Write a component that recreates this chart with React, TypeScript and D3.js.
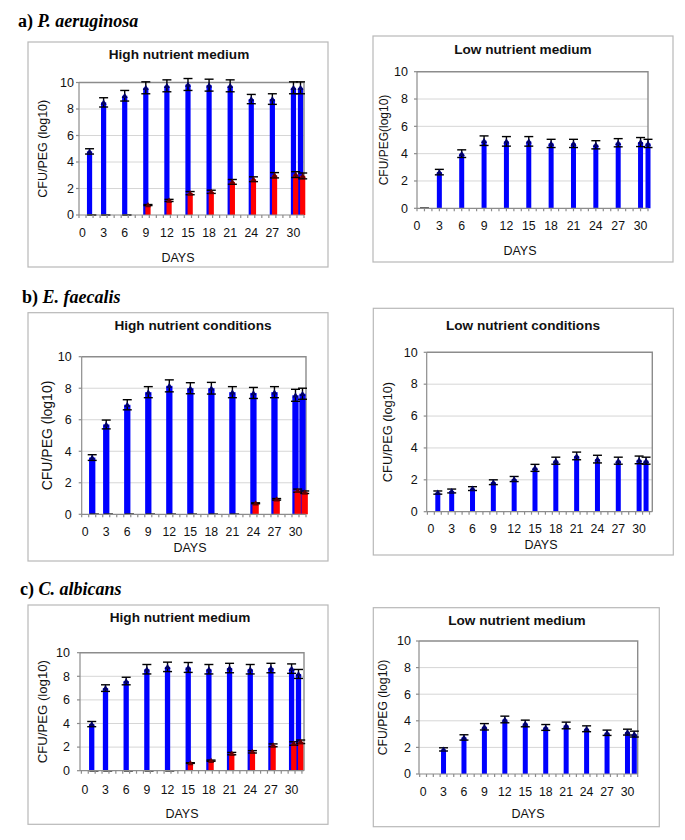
import React, { useEffect, useRef } from 'react';
import * as d3 from 'd3';

const days = [1, 3, 6, 9, 12, 15, 18, 21, 24, 27, 30, 31];
const dayLabels = [0, 3, 6, 9, 12, 15, 18, 21, 24, 27, 30];
const yTicks = [0, 2, 4, 6, 8, 10];

// a) P. aeruginosa
const paHighBlue = [4.8, 8.5, 9.0, 9.6, 9.75, 9.85, 9.8, 9.75, 8.75, 8.75, 9.6, 9.6];
const paHighBlueErr = [0.2, 0.35, 0.4, 0.45, 0.45, 0.45, 0.45, 0.45, 0.35, 0.4, 0.45, 0.45];
const paHighRed = [0, 0, 0, 0.75, 1.1, 1.65, 1.75, 2.5, 2.7, 3.0, 3.05, 2.95];
const paHighRedErr = [0, 0, 0, 0.04, 0.08, 0.12, 0.12, 0.18, 0.18, 0.2, 0.22, 0.22];
const paLowBlue = [0, 2.65, 4.0, 4.95, 4.9, 4.9, 4.75, 4.75, 4.65, 4.8, 4.85, 4.75];
const paLowBlueErr = [0, 0.2, 0.28, 0.35, 0.35, 0.35, 0.3, 0.3, 0.3, 0.3, 0.33, 0.3];

// b) E. faecalis
const efHighBlue = [3.6, 5.7, 6.95, 7.75, 8.15, 8.0, 8.0, 7.75, 7.7, 7.75, 7.55, 7.65];
const efHighBlueErr = [0.18, 0.28, 0.32, 0.35, 0.38, 0.35, 0.37, 0.35, 0.35, 0.35, 0.38, 0.35];
const efHighRed = [0, 0, 0, 0, 0, 0, 0, 0, 0.7, 0.95, 1.5, 1.4];
const efHighRedErr = [0, 0, 0, 0, 0, 0, 0, 0, 0.03, 0.05, 0.1, 0.08];
const efLowBlue = [1.2, 1.3, 1.45, 1.85, 2.05, 2.75, 3.2, 3.5, 3.3, 3.2, 3.25, 3.2];
const efLowBlueErr = [0.1, 0.12, 0.12, 0.15, 0.16, 0.22, 0.22, 0.24, 0.24, 0.22, 0.24, 0.22];

// c) C. albicans
const caHighBlue = [3.95, 7.0, 7.6, 8.6, 8.8, 8.75, 8.6, 8.7, 8.6, 8.7, 8.65, 8.2];
const caHighBlueErr = [0.22, 0.28, 0.32, 0.4, 0.4, 0.42, 0.4, 0.4, 0.4, 0.4, 0.4, 0.38];
const caHighRed = [0, 0, 0, 0, 0, 0.65, 0.85, 1.45, 1.6, 2.15, 2.3, 2.45];
const caHighRedErr = [0, 0, 0, 0, 0, 0.03, 0.05, 0.1, 0.1, 0.12, 0.15, 0.15];
const caLowBlue = [null, 1.85, 2.75, 3.55, 4.1, 3.8, 3.5, 3.65, 3.4, 3.1, 3.15, 3.0];
const caLowBlueErr = [0, 0.12, 0.2, 0.24, 0.25, 0.25, 0.22, 0.25, 0.22, 0.2, 0.22, 0.22];

const sections = [
  { tag: 'a) ', name: 'P. aeruginosa', x: 18, y: 27 },
  { tag: 'b) ', name: 'E. faecalis', x: 22, y: 303 },
  { tag: 'c) ', name: 'C. albicans', x: 20, y: 595 },
];

const panels = [
  {
    frame: [28, 42, 328, 267], plot: [79, 82.5, 304, 215], xDomain: [-0.5, 31.5], tickOff: 0.5,
    title: 'High nutrient medium', titleX: 179, titleY: 59, tickY: 236.5, daysX: 178, daysY: 261.5,
    yLabel: 'CFU/PEG (log10)', yLabelX: 43, yLabelSize: 12.5, yGap: 5, barW: 5.2,
    blue: paHighBlue, blueErr: paHighBlueErr, red: paHighRed, redErr: paHighRedErr,
  },
  {
    frame: [373, 36, 673, 262], plot: [417, 71.7, 648, 208.3], xDomain: [0, 31], tickOff: 0,
    title: 'Low nutrient medium', titleX: 523, titleY: 54, tickY: 229.5, daysX: 520, daysY: 254.5,
    yLabel: 'CFU/PEG(log10)', yLabelX: 384, yLabelSize: 12, yGap: 9, barW: 5,
    blue: paLowBlue, blueErr: paLowBlueErr, red: null, redErr: null,
  },
  {
    frame: [28, 312.7, 328, 561], plot: [81.7, 356.7, 306, 514.3], xDomain: [-0.5, 31.5], tickOff: 0.5,
    title: 'High nutrient conditions', titleX: 193, titleY: 330, tickY: 536, daysX: 190, daysY: 552,
    yLabel: 'CFU/PEG (log10)', yLabelX: 47.5, yLabelSize: 14, yGap: 10, barW: 6.3,
    blue: efHighBlue, blueErr: efHighBlueErr, red: efHighRed, redErr: efHighRedErr,
  },
  {
    frame: [373.3, 308.3, 673.3, 555], plot: [426.7, 352.3, 652.3, 511.7], xDomain: [-0.6, 31.9], tickOff: 0.5,
    title: 'Low nutrient conditions', titleX: 523, titleY: 330, tickY: 532.5, daysX: 541, daysY: 548.5,
    yLabel: 'CFU/PEG (log10)', yLabelX: 387.5, yLabelSize: 12.8, yGap: 9, barW: 5,
    blue: efLowBlue, blueErr: efLowBlueErr, red: null, redErr: null,
  },
  {
    frame: [28, 605, 328, 824.3], plot: [80, 652.7, 304, 770.7], xDomain: [-0.7, 31.8], tickOff: 0.5,
    title: 'High nutrient medium', titleX: 180, titleY: 622, tickY: 793.5, daysX: 182, daysY: 817.5,
    yLabel: 'CFU/PEG (log10)', yLabelX: 42.5, yLabelSize: 13.2, yGap: 10, barW: 5.3,
    blue: caHighBlue, blueErr: caHighBlueErr, red: caHighRed, redErr: caHighRedErr,
  },
  {
    frame: [373.3, 607.7, 659.3, 826.7], plot: [419, 641, 637.7, 774], xDomain: [-0.6, 31.5], tickOff: 0.5,
    title: 'Low nutrient medium', titleX: 517, titleY: 624.5, tickY: 796, daysX: 528, daysY: 817.5,
    yLabel: 'CFU/PEG (log10)', yLabelX: 383, yLabelSize: 12.2, yGap: 8, barW: 5,
    blue: caLowBlue, blueErr: caLowBlueErr, red: null, redErr: null,
  },
];

const FONT = 'Liberation Sans, Arial, sans-serif';

function drawSeries(g, x, y, vals, errs, barW, offset, fill, markFill) {
  const pts = days.map((d, i) => ({ d, v: vals[i], e: errs[i] })).filter(p => p.v !== null);
  g.append('g').selectAll('rect').data(pts.filter(p => p.v > 0)).join('rect')
    .attr('x', p => x(p.d) + offset - barW / 2)
    .attr('y', p => y(p.v))
    .attr('width', barW)
    .attr('height', p => y(0) - y(p.v))
    .attr('fill', fill);
  const eb = g.append('g').attr('stroke', '#000').attr('stroke-width', 1.4);
  pts.forEach(p => {
    const cx = x(p.d) + offset;
    eb.append('line').attr('x1', cx).attr('x2', cx).attr('y1', y(p.v + p.e)).attr('y2', y(p.v - p.e));
    eb.append('line').attr('x1', cx - 4.5).attr('x2', cx + 4.5).attr('y1', y(p.v + p.e)).attr('y2', y(p.v + p.e));
    eb.append('line').attr('x1', cx - 4.5).attr('x2', cx + 4.5).attr('y1', y(p.v - p.e)).attr('y2', y(p.v - p.e));
  });
  g.append('g').selectAll('path').data(pts.filter(p => p.v > 0)).join('path')
    .attr('d', d3.symbol(d3.symbolTriangle, 16))
    .attr('transform', p => `translate(${x(p.d) + offset},${y(p.v) + 0.5})`)
    .attr('fill', markFill);
}

function drawPanel(svg, p) {
  const g = svg.append('g');
  const [fx0, fy0, fx1, fy1] = p.frame;
  g.append('rect')
    .attr('x', fx0).attr('y', fy0).attr('width', fx1 - fx0).attr('height', fy1 - fy0)
    .attr('fill', '#fff').attr('stroke', '#b8b8b8').attr('stroke-width', 1.2);

  const [l, t, r, b] = p.plot;
  const x = d3.scaleLinear().domain(p.xDomain).range([l, r]);
  const y = d3.scaleLinear().domain([0, 10]).range([b, t]);

  g.append('g').selectAll('line').data(yTicks.filter(v => v > 0 && v < 10)).join('line')
    .attr('x1', l).attr('x2', r).attr('y1', v => y(v)).attr('y2', v => y(v))
    .attr('stroke', '#d6d6d6').attr('stroke-width', 1);

  g.append('path')
    .attr('d', `M${l},${y(10)}H${r}V${y(0)}`)
    .attr('fill', 'none').attr('stroke', '#8c8c8c').attr('stroke-width', 1.4);

  drawSeries(g, x, y, p.blue, p.blueErr, p.barW, 0, '#0000ff', '#000066');
  if (p.red) drawSeries(g, x, y, p.red, p.redErr, p.barW, 2.2, '#ff0000', '#660000');

  // axes
  const ax = g.append('g').attr('stroke', '#8c8c8c').attr('stroke-width', 1.2);
  ax.append('line').attr('x1', l).attr('x2', l).attr('y1', y(0)).attr('y2', y(10));
  ax.append('line').attr('x1', l).attr('x2', r).attr('y1', y(0)).attr('y2', y(0));
  yTicks.forEach(v => {
    ax.append('line').attr('x1', l - 3).attr('x2', l).attr('y1', y(v)).attr('y2', y(v));
  });
  const minor = d3.range(Math.ceil(p.xDomain[0] - p.tickOff) + p.tickOff, p.xDomain[1] + 0.01, 1);
  minor.forEach(d => {
    ax.append('line').attr('x1', x(d)).attr('x2', x(d)).attr('y1', y(0)).attr('y2', y(0) + 3);
  });

  const txt = g.append('g').attr('font-family', FONT).attr('fill', '#111');
  txt.selectAll('text.yt').data(yTicks).join('text')
    .attr('x', l - p.yGap).attr('y', v => y(v) + 4.3)
    .attr('text-anchor', 'end').attr('font-size', 12.5).text(v => v);
  txt.selectAll('text.xt').data(dayLabels).join('text')
    .attr('x', d => x(d)).attr('y', p.tickY)
    .attr('text-anchor', 'middle').attr('font-size', 12.3).text(d => d);
  txt.append('text').attr('x', p.daysX).attr('y', p.daysY)
    .attr('text-anchor', 'middle').attr('font-size', 12.5).text('DAYS');
  txt.append('text')
    .attr('transform', `translate(${p.yLabelX},${(t + b) / 2}) rotate(-90)`)
    .attr('dy', '0.35em').attr('text-anchor', 'middle').attr('font-size', p.yLabelSize)
    .text(p.yLabel);
  txt.append('text').attr('x', p.titleX).attr('y', p.titleY)
    .attr('text-anchor', 'middle').attr('font-size', 13.6).attr('font-weight', 'bold')
    .text(p.title);
}

export default function App() {
  const ref = useRef<SVGSVGElement>(null);

  useEffect(() => {
    document.body.style.margin = '0';
    const svg = d3.select(ref.current);
    svg.selectAll('*').remove();
    svg.append('rect').attr('width', 685).attr('height', 840).attr('fill', '#fff');

    sections.forEach(s => {
      const t = svg.append('text').attr('x', s.x).attr('y', s.y)
        .attr('font-family', 'Liberation Serif, Times New Roman, serif')
        .attr('font-size', 18).attr('font-weight', 'bold').attr('fill', '#000');
      t.append('tspan').text(s.tag);
      t.append('tspan').attr('font-style', 'italic').text(s.name);
    });

    panels.forEach(p => drawPanel(svg, p));
  }, []);

  return <svg ref={ref} width={685} height={840} style={{ display: 'block' }} />;
}
